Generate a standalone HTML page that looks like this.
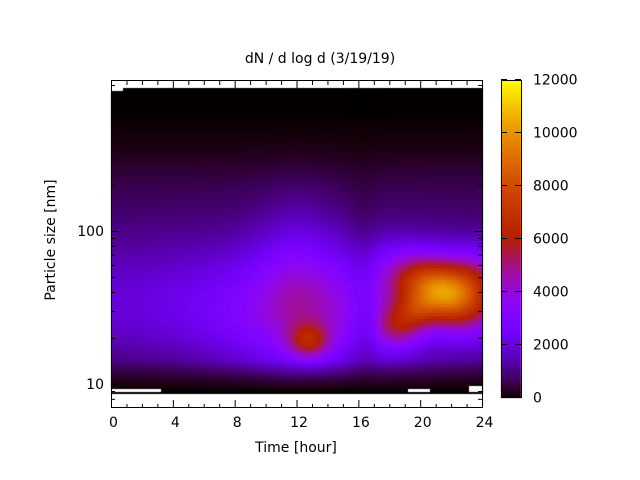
<!DOCTYPE html>
<html><head><meta charset="utf-8"><style>
body{margin:0;background:#fff;width:640px;height:480px;overflow:hidden;position:relative;font-family:"Liberation Sans","DejaVu Sans",sans-serif}
canvas{position:absolute;left:0;top:0}
svg{position:absolute;left:0;top:0}
</style></head><body>
<canvas id="c" width="640" height="480"></canvas>
<svg width="640" height="480" font-family="DejaVu Sans, Liberation Sans, sans-serif" font-size="14" fill="#000">
<g id="ax" stroke="#000" stroke-width="1" fill="none"></g>
<text x="320" y="63" text-anchor="middle">dN / d log d (3/19/19)</text>
<text x="296" y="452" text-anchor="middle">Time [hour]</text>
<text transform="translate(55,240) rotate(-90)" text-anchor="middle">Particle size [nm]</text>
<g id="lb"></g>
</svg>
<script>
function yOf(ld){return 384-(ld-1)*153;}
function col(v){var x=Math.max(0,Math.min(1,v/12000));
var r=Math.sqrt(x),g=x*x*x,b=Math.max(0,Math.sin(2*Math.PI*x));
return [r*255|0,g*255|0,b*255|0];}
function f(t,ld){
 var tf=0.5+0.65*Math.exp(-Math.pow((t-13)/7,2));
 var v=2900*Math.exp(-Math.pow((ld-1.45)/0.42,2))*tf;
 v+=1100*Math.exp(-Math.pow((t-12)/2.5,2))*Math.exp(-Math.pow((ld-1.65)/0.5,2));
 v+=800*Math.exp(-Math.pow((ld-1.95)/0.6,2));
 v*=1-0.2*Math.exp(-Math.pow((t-16.3)/1,2));
 v+=3000*Math.exp(-Math.pow((t-12.8)/1.3,2)-Math.pow((ld-1.28)/0.11,2));
 var u=(t-21.3),w=(ld-1.6);
 var a=u*0.8-w*7,bb=u*0.55+w*9;
 v+=7500*Math.exp(-Math.pow(a/3.2,2)-Math.pow(bb/2.0,2));
 v+=2800*Math.exp(-Math.pow((t-18.6)/1.5,2)-Math.pow((ld-1.38)/0.14,2))*(t>17.5?1:Math.exp(-Math.pow((t-17.5)/0.6,2)));
 v+=1500*Math.exp(-Math.pow((t-19.8)/1.2,2)-Math.pow((ld-1.48)/0.1,2));
 v+=2500*Math.exp(-Math.pow((t-23.5)/2,2)-Math.pow((ld-1.7)/0.18,2));
 if(ld<1.15){v*=Math.max(0,(ld-0.95)/0.2);}
 if(ld>2.25){v*=Math.exp(-Math.pow((ld-2.25)/0.35,2));}
 if(ld>2.72)v*=0.3;
 return Math.max(0,v);}
var cv=document.getElementById('c'),ctx=cv.getContext('2d');
for(var y=88;y<392;y+=3){var ld=1+(384-(y+1.5))/153;
 for(var x=111;x<482;x+=3){var t=(x+1.5-111)/15.46;var c=col(f(t,ld));
 ctx.fillStyle='rgb('+c+')';ctx.fillRect(x,y,3,3);}}
ctx.fillStyle='#fff';ctx.fillRect(111,81,12,10);ctx.fillRect(111,389,50,3);ctx.fillRect(408,389,22,3);ctx.fillRect(469,386,13,6);
for(var y=80;y<398;y++){var c=col((398-y)/318*12000);ctx.fillStyle='rgb('+c+')';ctx.fillRect(501,y,20,1);}
var ax=document.getElementById('ax'),lb=document.getElementById('lb'),s='',l='';
s+='<rect x="111.5" y="80.5" width="371" height="327"/>';
s+='<rect x="501.5" y="80.5" width="20" height="317"/>';
for(var h=0;h<=24;h++){var x=111.5+h*15.46,L=h%4==0?8:4;
 s+='<line x1="'+x+'" y1="408" x2="'+x+'" y2="'+(408-L)+'"/><line x1="'+x+'" y1="81" x2="'+x+'" y2="'+(81+L)+'"/>';
 if(h%4==0)l+='<text x="'+(x+2)+'" y="427" text-anchor="middle">'+h+'</text>';}
var ys=[8,9,10,20,30,40,50,60,70,80,90,100,200,300,400,500,600,700,800,900];
ys.forEach(function(d){var y=yOf(Math.log10(d))+0.5;if(y<81||y>408)return;var L=(d==10||d==100)?8:4;
 s+='<line x1="111" y1="'+y+'" x2="'+(111+L)+'" y2="'+y+'"/><line x1="482" y1="'+y+'" x2="'+(482-L)+'" y2="'+y+'"/>';});
l+='<text x="104" y="389" text-anchor="end">10</text><text x="104" y="236" text-anchor="end">100</text>';
for(var k=0;k<=6;k++){var y=397.5-k*53;
 s+='<line x1="501" y1="'+y+'" x2="507" y2="'+y+'"/><line x1="521" y1="'+y+'" x2="515" y2="'+y+'"/>';
 l+='<text x="533" y="'+(y+5)+'">'+(k*2000)+'</text>';}
ax.innerHTML=s;lb.innerHTML=l;
</script>
</body></html>
